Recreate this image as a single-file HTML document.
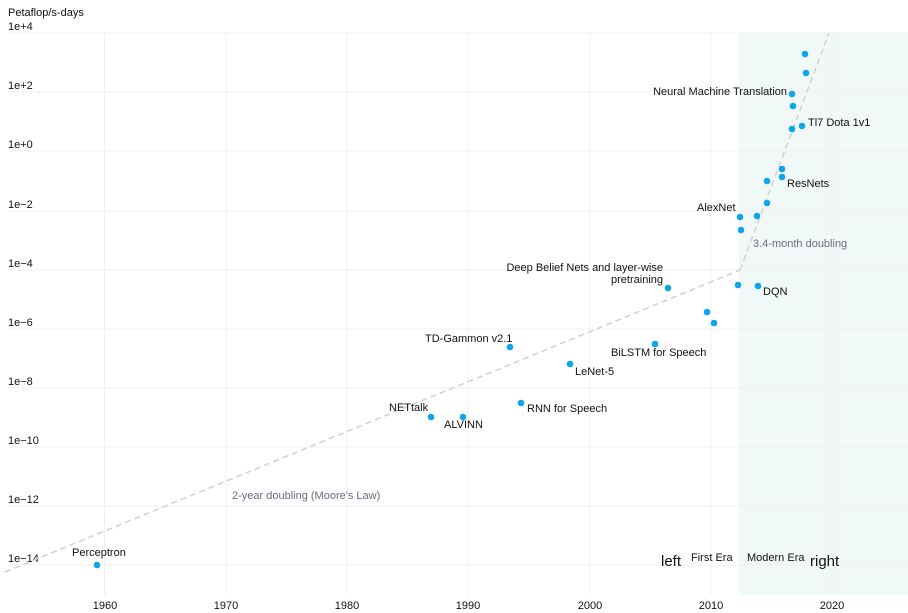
<!DOCTYPE html>
<html><head><meta charset="utf-8"><style>
body{margin:0;background:#fff}
svg{display:block;font-family:"Liberation Sans",sans-serif}
</style></head><body>
<svg width="908" height="613" xmlns="http://www.w3.org/2000/svg">
<rect x="739" y="33" width="169" height="562" fill="#f1f9f8"/>
<g stroke="#f0f0f0" stroke-width="1">
<line x1="8" y1="33" x2="908" y2="33"/><line x1="8" y1="92" x2="908" y2="92"/><line x1="8" y1="151" x2="908" y2="151"/><line x1="8" y1="211" x2="908" y2="211"/><line x1="8" y1="270" x2="908" y2="270"/><line x1="8" y1="329" x2="908" y2="329"/><line x1="8" y1="388" x2="908" y2="388"/><line x1="8" y1="447" x2="908" y2="447"/><line x1="8" y1="506" x2="908" y2="506"/><line x1="8" y1="565" x2="908" y2="565"/>
<line x1="104.5" y1="33" x2="104.5" y2="595"/><line x1="226" y1="33" x2="226" y2="595"/><line x1="347" y1="33" x2="347" y2="595"/><line x1="468" y1="33" x2="468" y2="595"/><line x1="590" y1="33" x2="590" y2="595"/><line x1="711" y1="33" x2="711" y2="595"/><line x1="832" y1="33" x2="832" y2="595"/>
</g>
<g font-size="11" fill="#111">
<text x="8" y="16">Petaflop/s-days</text>
<text x="8" y="30">1e+4</text><text x="8" y="89">1e+2</text><text x="8" y="148">1e+0</text><text x="8" y="208">1e−2</text><text x="8" y="267">1e−4</text><text x="8" y="326">1e−6</text><text x="8" y="385">1e−8</text><text x="8" y="444">1e−10</text><text x="8" y="503">1e−12</text><text x="8" y="562">1e−14</text>
</g>
<g font-size="11" fill="#111" text-anchor="middle">
<text x="105" y="609">1960</text><text x="226" y="609">1970</text><text x="347" y="609">1980</text><text x="468" y="609">1990</text><text x="590" y="609">2000</text><text x="711" y="609">2010</text><text x="832" y="609">2020</text>
</g>
<g stroke="#d0d0d0" stroke-width="1.5" stroke-dasharray="6,4" fill="none">
<line x1="5" y1="572" x2="740" y2="270"/>
<line x1="740" y1="270" x2="829" y2="33"/>
</g>
<g font-size="11" fill="#6b6b80">
<text x="232" y="499">2-year doubling (Moore's Law)</text>
<text x="753" y="247">3.4-month doubling</text>
</g>
<g fill="#0ea5e9">
<circle cx="97" cy="565" r="3.3"/><circle cx="431" cy="417" r="3.3"/><circle cx="463" cy="417" r="3.3"/><circle cx="510" cy="347" r="3.3"/><circle cx="521" cy="403" r="3.3"/><circle cx="570" cy="364" r="3.3"/><circle cx="655" cy="344" r="3.3"/><circle cx="668" cy="288" r="3.3"/><circle cx="707" cy="312" r="3.3"/><circle cx="714" cy="323" r="3.3"/><circle cx="738" cy="285" r="3.3"/><circle cx="758" cy="286" r="3.3"/><circle cx="740" cy="217" r="3.3"/><circle cx="741" cy="230" r="3.3"/><circle cx="757" cy="216" r="3.3"/><circle cx="767" cy="203" r="3.3"/><circle cx="767" cy="181" r="3.3"/><circle cx="782" cy="177" r="3.3"/><circle cx="782" cy="169" r="3.3"/><circle cx="792" cy="129" r="3.3"/><circle cx="802" cy="126" r="3.3"/><circle cx="793" cy="106" r="3.3"/><circle cx="792" cy="94" r="3.3"/><circle cx="806" cy="73" r="3.3"/><circle cx="805" cy="54" r="3.3"/>
</g>
<g font-size="11" fill="#111">
<text x="72" y="556">Perceptron</text>
<text x="389" y="411">NETtalk</text>
<text x="444" y="428">ALVINN</text>
<text x="425" y="342">TD-Gammon v2.1</text>
<text x="527" y="412">RNN for Speech</text>
<text x="575" y="375">LeNet-5</text>
<text x="611" y="356">BiLSTM for Speech</text>
<text x="663" y="271" text-anchor="end">Deep Belief Nets and layer-wise</text>
<text x="663" y="283" text-anchor="end">pretraining</text>
<text x="763" y="295">DQN</text>
<text x="697" y="211">AlexNet</text>
<text x="787" y="187">ResNets</text>
<text x="808" y="126">Tl7 Dota 1v1</text>
<text x="787" y="95" text-anchor="end">Neural Machine Translation</text>
<text x="691" y="561">First Era</text>
<text x="747" y="561">Modern Era</text>
</g>
<text x="661" y="566" font-size="15" fill="#111">left</text>
<text x="810" y="566" font-size="15" fill="#111">right</text>
</svg>
</body></html>
